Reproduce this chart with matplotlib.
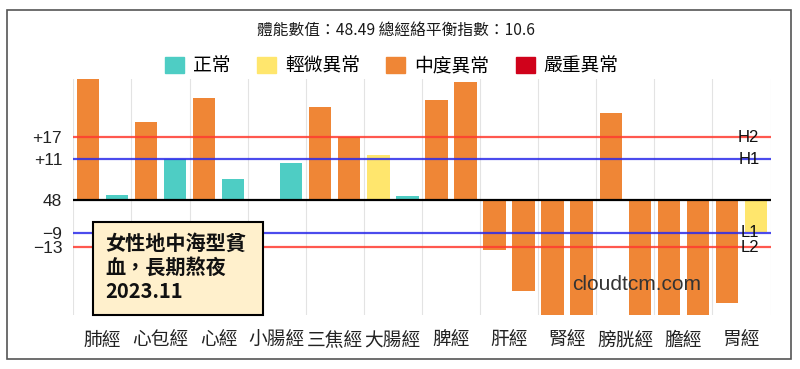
import matplotlib
matplotlib.use("Agg")
import matplotlib.pyplot as plt
from matplotlib.patches import Patch, Rectangle
import numpy as np

plt.rcParams['font.family'] = ['Noto Sans CJK TC', 'DejaVu Sans']

categories = ["肺經", "心包經", "心經", "小腸經", "三焦經", "大腸經",
              "脾經", "肝經", "腎經", "膀胱經", "膽經", "胃經"]
left_values = [34, 21.1, 27.7, 0, 25.2, 12.3, 27.2, -13.8, -34, 23.6, -34, -28.2]
right_values = [1.3, 11.1, 5.6, 9.9, 17.2, 1.1, 32.2, -24.9, -34, -34, -34, -8.7]
left_levels = ["中度異常", "中度異常", "中度異常", "正常", "中度異常", "輕微異常",
               "中度異常", "中度異常", "中度異常", "中度異常", "中度異常", "中度異常"]
right_levels = ["正常", "正常", "正常", "正常", "中度異常", "正常",
                "中度異常", "中度異常", "中度異常", "中度異常", "中度異常", "輕微異常"]
level_names = ["正常", "輕微異常", "中度異常", "嚴重異常"]
level_colors = ["#4ECDC4", "#FFE66D", "#EF8636", "#D0021B"]
tick_values = [17, 11, 0, -9, -13]
tick_labels = ["+17", "+11", "48", "−9", "−13"]
ref_lines = [("H2", 17, "#FF3B30"), ("H1", 11, "#2B2BEA"),
             ("L1", -9, "#2B2BEA"), ("L2", -13, "#FF3B30")]
title_text = "體能數值：48.49 總經絡平衡指數：10.6"
note_text = "女性地中海型貧\n血，長期熬夜\n2023.11"
watermark = "cloudtcm.com"

cmap = dict(zip(level_names, level_colors))

fig = plt.figure(figsize=(8, 3.69), dpi=100)
ax = fig.add_axes([73.3 / 800, 54 / 369, 697.2 / 800, 236 / 369])

x = np.arange(len(categories))
w = 0.385
ax.bar(x - 0.25, left_values, w, color=[cmap[l] for l in left_levels], zorder=2)
ax.bar(x + 0.25, right_values, w, color=[cmap[l] for l in right_levels], zorder=2)

ax.set_xlim(-0.5, len(categories) - 0.5)
ax.set_ylim(-31.45, 32.9)

for b in np.arange(-0.5, len(categories) + 0.5, 1.0):
    ax.axvline(b, color="#E3E3E3", lw=0.8, zorder=1)

ax.axhline(0, color="black", lw=1.6, zorder=4)
for name, val, col in ref_lines:
    ax.axhline(val, color=col, lw=1.6, alpha=0.85, zorder=4)
    ax.text(len(categories) - 0.69, val, name, ha="right", va="center",
            fontsize=12, family=["Liberation Sans"], color="#111111", zorder=5)

for s in ax.spines.values():
    s.set_visible(False)
ax.set_xticks(x)
ax.set_xticklabels(categories, fontsize=13.5, color="#222222")
ax.set_yticks(tick_values)
ax.set_yticklabels(tick_labels, fontsize=12.5, color="#222222", family=["Liberation Sans"])
ax.tick_params(length=0, pad=8)
ax.tick_params(axis="x", pad=11)

# annotation box (pixel placement within figure)
fig.patches.append(Rectangle((93 / 800, 1 - 315 / 369), 170 / 800, 93 / 369,
                             transform=fig.transFigure, facecolor="#FFF0CC",
                             edgecolor="black", lw=1.5, zorder=6))
fig.text(105 / 800, 1 - 233 / 369, note_text, fontsize=14.5, fontweight="bold",
         ha="left", va="top", linespacing=1.18, color="#111111", zorder=7)

ax.text(9.19, -23.0, watermark, ha="center", va="center", fontsize=15,
        family=["Liberation Sans"], color="#333333", zorder=6)

fig.text(0.495, 1 - 30 / 369, title_text, ha="center", va="center", fontsize=11.3, color="#1a1a1a")

handles = [Patch(facecolor=c, edgecolor=c, label=n) for n, c in zip(level_names, level_colors)]
fig.legend(handles=handles, loc="center", bbox_to_anchor=(0.49, 1 - 66 / 369), ncol=4,
           frameon=False, fontsize=13.5, handlelength=1.0, handleheight=1.0,
           handletextpad=0.5, columnspacing=1.4)

fig.patches.append(Rectangle((7 / 800, 1 - 359 / 369), 784 / 800, 349 / 369,
                             transform=fig.transFigure, fill=False, edgecolor="#555555", lw=1.2))

fig.savefig("out.png", dpi=100)
